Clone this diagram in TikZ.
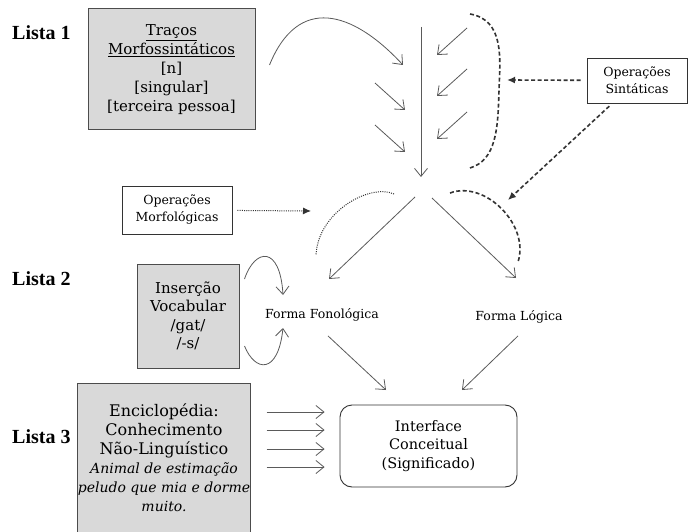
\documentclass[tikz,border=0pt]{standalone}
\usepackage{fontspec}
\setmainfont{DejaVu Serif}
\newfontfamily\listafont{Liberation Serif}
\usetikzlibrary{arrows.meta}
\definecolor{fundo}{HTML}{D9D9D9}
\definecolor{cinza}{HTML}{5A5A5A}
\definecolor{escuro}{HTML}{333333}

\begin{document}
\begin{tikzpicture}[x=1pt,y=-1pt,
		seta/.style={draw=cinza,line width=0.8pt,-{Straight Barb[length=8pt,width=13pt]}},
		tracejada/.style={draw=escuro,line width=1.6pt,dash pattern=on 4pt off 2.5pt},
		pontilhada/.style={draw=escuro,line width=1pt,dash pattern=on 1pt off 1.2pt},
		ponta/.style={-{Latex[length=8pt,width=7pt]}},
		caixa/.style={draw=black!70,fill=fundo,line width=1pt,align=center,inner sep=0pt},
		rotulo/.style={draw=black!80,line width=0.9pt,align=center,inner sep=0pt,font=\fontsize{12.5}{17}\selectfont},
		forma/.style={font=\fontsize{12.5}{15}\selectfont},
		lista/.style={anchor=base west,inner sep=0pt,font=\listafont\bfseries\fontsize{20}{20}\selectfont}
	]
	\fill[white] (0,0) rectangle (688,532);
	\useasboundingbox (0,0) rectangle (688,532);

	\node[lista] (lista1) at (12,40) {Lista 1};
	\node[lista] (lista2) at (12,285) {Lista 2};
	\node[lista] (lista3) at (12,443) {Lista 3};

	\node[caixa,minimum width=167pt,minimum height=121pt,font=\fontsize{15}{19}\selectfont] (tracos) at (171.5,69.5)
		{\underline{Traços}\\\underline{Morfossintáticos}\\{[n]}\\{[singular]}\\{[terceira pessoa]}};
	\node[caixa,minimum width=102pt,minimum height=104pt,font=\fontsize{15}{18.5}\selectfont] (insercao) at (188,316)
		{Inserção\\Vocabular\\/gat/\\/-s/};
	\node[caixa,minimum width=170pt,minimum height=149pt,font=\fontsize{16}{19}\selectfont] (enciclopedia) at (164,457.5)
		{Enciclopédia:\\Conhecimento\\Não-Linguístico\\\textit{\fontsize{14}{19}\selectfont Animal de estimação}\\
		\textit{\fontsize{14}{19}\selectfont peludo que mia e dorme}\\\textit{\fontsize{14}{19}\selectfont muito.}};

	\node[rotulo,minimum width=100pt,minimum height=45pt] (opsint) at (637,80.5) {Operações\\Sintáticas};
	\node[rotulo,minimum width=110pt,minimum height=48pt] (opmorf) at (177,210) {Operações\\Morfológicas};

	\node[forma] (ff) at (322,315) {Forma Fonológica};
	\node[forma] (fl) at (519,317) {Forma Lógica};
	\node[draw=black!80,line width=0.9pt,rounded corners=12pt,minimum width=177pt,minimum height=82pt,
		align=center,font=\fontsize{14.5}{18.5}\selectfont] (interface) at (428.5,446) {Interface\\Conceitual\\(Significado)};

	\coordinate (topo) at (421,27);
	\coordinate (juncao) at (421,177);
	\coordinate (alvosint) at (507,80);
	\coordinate (alvofl) at (508,200);
	\coordinate (alvomorf) at (311,211);
	\coordinate (pontaff) at (329,279);
	\coordinate (pontafl) at (516,278);
	\coordinate (cimaff) at (283,295);
	\coordinate (baixoff) at (283,328);
	\coordinate (ffi) at (386,390);
	\coordinate (fli) at (462,390);

	\draw[seta] (topo) -- (juncao);
	\draw[seta] ([shift={(14,-4.5)}]tracos.east) .. controls (298,-5) and (352,10) .. (403,65);
	\foreach \y in {83,125} \draw[seta] (375,\y) -- ++(30,27);
	\foreach \y in {28,69,112} \draw[seta] (467,\y) -- ++(-30,27);

	\draw[tracejada] (470,14) .. controls (505,20) and (500,60) .. (499,90) .. controls (498,130) and (496,160) .. (470,168);
	\draw[tracejada,ponta,shorten <=6pt] (opsint) -- (alvosint);
	\draw[tracejada,ponta,shorten <=4pt] (opsint) -- (alvofl);

	\draw[seta] ([shift={(-6,20)}]juncao) -- (pontaff);
	\draw[seta] ([shift={(11,21)}]juncao) -- (pontafl);
	\draw[tracejada] (450,193) .. controls (485,180) and (530,225) .. (518,262);
	\draw[pontilhada] (394,194) .. controls (370,183) and (318,212) .. (316,255);
	\draw[pontilhada,ponta,shorten <=5pt] (opmorf) -- (alvomorf);

	\draw[seta] ([shift={(5,-37)}]insercao.east) .. controls (255,248) and (280,245) .. (cimaff);
	\draw[seta] ([shift={(5,30)}]insercao.east) .. controls (255,372) and (278,375) .. (baixoff);

	\draw[seta] ([shift={(6,11)}]ff.south) -- (ffi);
	\draw[seta] ([shift={(-1,9)}]fl.south) -- (fli);
	\foreach \y in {412,430,449,467}
		\draw[seta,shorten <=16pt,shorten >=15pt] (enciclopedia.east |- 0,\y) -- (interface.west |- 0,\y);
\end{tikzpicture}
\end{document}
